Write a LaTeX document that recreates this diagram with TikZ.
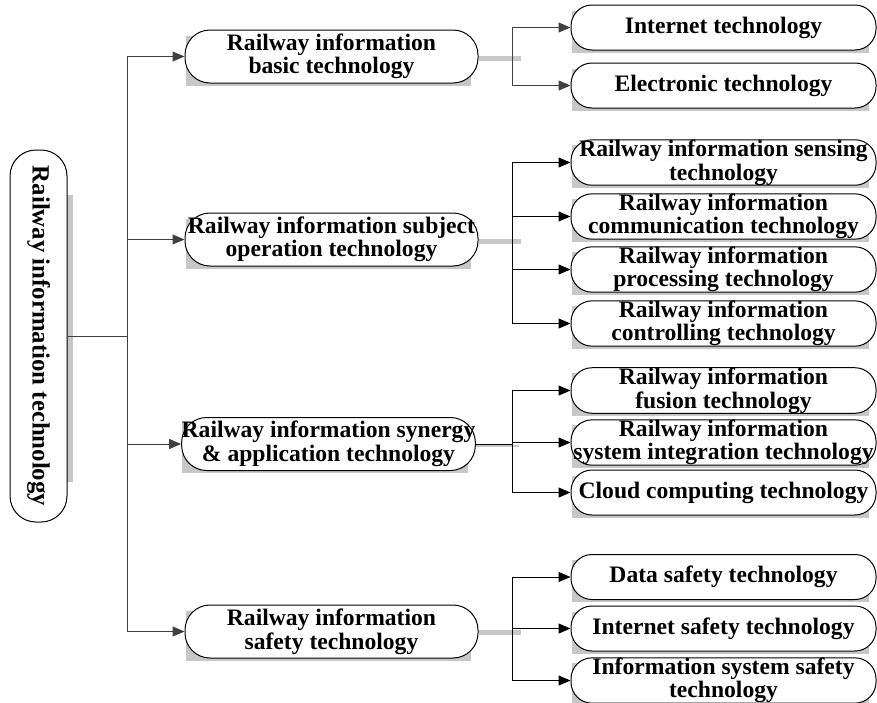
\documentclass[tikz,border=0pt]{standalone}
\usepackage{fontspec}
\setmainfont{Liberation Serif}
\usepackage{tikz}
\usetikzlibrary{calc}
\usetikzlibrary{arrows.meta}
\usetikzlibrary{backgrounds}

\begin{document}
\begin{tikzpicture}[x=0.5pt,y=-0.5pt,
    pill/.style={draw,line width=0.5pt,fill=white,align=center,inner sep=0pt,rounded corners=12.5pt,
      font=\bfseries\fontsize{11.8}{10.5}\selectfont},
    mid/.style={pill,minimum width=146.5pt,minimum height=26.5pt},
    leaf/.style={pill,minimum width=152.5pt,minimum height=22.5pt,rounded corners=10.5pt,
      font=\bfseries\fontsize{11.8}{8}\selectfont},
    link/.style={line width=0.5pt,draw=black!75,-{Triangle[length=6pt,width=5pt]}},
    blink/.style={link,draw=black},
    stub/.style={line width=2.5pt,draw=black!22},
    shade/.style={fill=black!22}]
            \useasboundingbox (0,0) rectangle (877,702);

            % root
            \node[pill,rotate=-90,minimum width=186pt,minimum height=28.5pt,rounded corners=13pt,
              font=\bfseries\fontsize{12.4}{12}\selectfont] (t0) at (38.5,336) {Railway information technology};

            % second level
            \node[mid] (t1) at (331.5,56.5) {Railway information\\basic technology};
            \node[mid] (t2) at (331.5,239.5) {Railway information subject\\operation technology};
            \node[mid] (t3) at (328.5,444) {Railway information synergy\\\& application technology};
            \node[mid] (t4) at (331.5,631.5) {Railway information\\safety technology};

            % third level
            \node[leaf] (t11) at (723.5,27.5) {Internet technology};
            \node[leaf] (t12) at (723.5,85.5) {Electronic technology};
            \node[leaf] (t21) at (723.5,162.5) {Railway information sensing\\technology};
            \node[leaf] (t22) at (723.5,216.5) {Railway information\\communication technology};
            \node[leaf] (t23) at (723.5,269.5) {Railway information\\processing technology};
            \node[leaf] (t24) at (723.5,323.5) {Railway information\\controlling technology};
            \node[leaf] (t31) at (723.5,390.5) {Railway information\\fusion technology};
            \node[leaf] (t32) at (723.5,442.5) {Railway information\\system integration technology};
            \node[leaf] (t33) at (723.5,492.5) {Cloud computing technology};
            \node[leaf] (t41) at (723.5,577) {Data safety technology};
            \node[leaf] (t42) at (723.5,628.5) {Internet safety technology};
            \node[leaf] (t43) at (723.5,680.5) {Information system safety\\technology};

            \coordinate (j0) at ($(t0.north)+(60,0)$);
            \coordinate (j1) at ($(t1.east)+(34,0)$);
            \coordinate (j2) at ($(t2.east)+(34,0)$);
            \coordinate (j3) at ($(t3.east)+(37,0)$);
            \coordinate (j4) at ($(t4.east)+(34,0)$);

            \begin{scope}[on background layer]
            \fill[shade] ($(t0.north)+(-5,-141)$) rectangle ($(t0.north)+(5,146)$);
            \foreach \n in {t1,t2,t3,t4,t11,t12,t21,t22,t23,t24,t31,t32,t33,t41,t42,t43}
              \fill[shade] ($(\n.north west)+(1,6)$) rectangle ($(\n.south east)+(-8,2)$);
            \draw[stub] ($(t1.east)+(0,2)$) -- ++(42,0);
            \draw[stub] ($(t2.east)+(0,2)$) -- ++(42,0);
            \draw[stub,line width=1.2pt] ($(t3.east)+(0,2)$) -- ++(43,0);
            \draw[stub] ($(t4.east)+(0,1)$) -- ++(42,0);
            \end{scope}

            \draw[line width=0.5pt,draw=black!75] (t0.north) -- (j0);
            \draw[link] (j0) |- (t1.west);
            \draw[link] (j0) |- (t2.west);
            \draw[link] (j0) |- (t3.west);
            \draw[link] (j0) |- (t4.west);

            \draw[link] (j1) |- (t11.west);
            \draw[link] (j1) |- (t12.west);
            \draw[blink] (j2) |- (t21.west);
            \draw[blink] (j2) |- (t22.west);
            \draw[blink] (j2) |- (t23.west);
            \draw[blink] (j2) |- (t24.west);
            \draw[line width=0.4pt] (t3.east) -- (j3);
            \draw[blink] (j3) |- (t31.west);
            \draw[blink] (j3) |- (t32.west);
            \draw[blink] (j3) |- (t33.west);
            \draw[blink] (j4) |- (t41.west);
            \draw[blink] (j4) |- (t42.west);
            \draw[blink] (j4) |- (t43.west);
\end{tikzpicture}
\end{document}
